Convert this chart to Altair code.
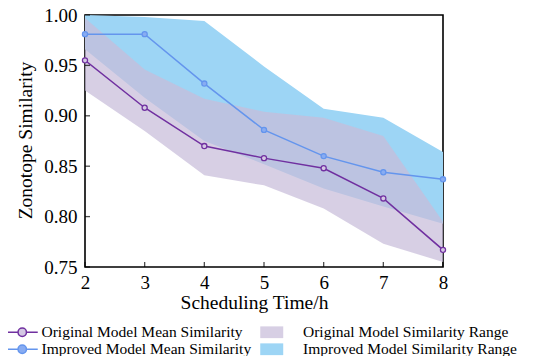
import altair as alt
import pandas as pd

# ---- data ----
hours = [2, 3, 4, 5, 6, 7, 8]
orig_mean = [0.955, 0.908, 0.870, 0.858, 0.848, 0.818, 0.767]
impr_mean = [0.981, 0.981, 0.932, 0.886, 0.860, 0.844, 0.837]
orig_low = [0.925, 0.885, 0.841, 0.831, 0.808, 0.773, 0.755]
orig_high = [0.997, 0.946, 0.917, 0.904, 0.898, 0.880, 0.795]
impr_low = [0.966, 0.918, 0.875, 0.852, 0.828, 0.810, 0.793]
impr_high = [1.000, 0.998, 0.994, 0.949, 0.907, 0.898, 0.864]
y_ticks = [0.75, 0.80, 0.85, 0.90, 0.95, 1.00]

ORIG_MEAN = "Original Model Mean Similarity"
IMPR_MEAN = "Improved Model Mean Similarity"
ORIG_RANGE = "Original Model Similarity Range"
IMPR_RANGE = "Improved Model Similarity Range"

mean_df = pd.DataFrame({
    "hour": hours * 2,
    "value": orig_mean + impr_mean,
    "key": [ORIG_MEAN] * len(hours) + [IMPR_MEAN] * len(hours),
})
band_df = pd.DataFrame({
    "hour": hours * 2,
    "low": impr_low + orig_low,
    "high": impr_high + orig_high,
    "key": [IMPR_RANGE] * len(hours) + [ORIG_RANGE] * len(hours),
})
xtick_df = pd.DataFrame({"hour": hours, "v": [0.75] * len(hours)})
ytick_df = pd.DataFrame({"hour": [2] * len(y_ticks), "v": y_ticks})

FONT = "Liberation Serif"
# legend symbols (unit = half of sqrt(symbolSize))
LC_PATH = "M-1,0H1.26M2.94,0H5.2M2.94,0A0.84,0.84,0,1,1,1.26,0A0.84,0.84,0,1,1,2.94,0Z"
RECT_PATH = "M-1,-0.98H2.83V0.98H-1Z"

x_scale = alt.Scale(domain=[2, 8], nice=False, zero=False)
y_scale = alt.Scale(domain=[0.75, 1.0], nice=False, zero=False)

x_axis = alt.Axis(
    title="Scheduling Time/h", values=hours, format="d", grid=False, domain=False,
    ticks=False, tickSize=0, labelPadding=6, labelFont=FONT, labelFontSize=19,
    labelColor="black", titleFont=FONT, titleFontSize=19.5, titleFontWeight="normal",
    titleColor="black", titleX=169, titleY=41, titleAlign="center",
    titleBaseline="alphabetic", labelFlush=False,
)
y_axis = alt.Axis(
    title="Zonotope Similarity", values=y_ticks, format=".2f", grid=False, domain=False,
    ticks=False, tickSize=0, labelPadding=8, labelFont=FONT, labelFontSize=19,
    labelColor="black", titleFont=FONT, titleFontSize=19.5, titleFontWeight="normal",
    titleColor="black", titleX=-60, titleY=125, titleAngle=-90, titleAlign="center",
    titleBaseline="middle", labelFlush=False,
)

x_enc = alt.X("hour:Q", scale=x_scale, axis=x_axis)

LEG_Y = 309.5
ROW_PAD = 0

band_legend = alt.Legend(
    title=None, orient="none", legendX=173.5, legendY=LEG_Y, direction="vertical",
    symbolType=RECT_PATH, symbolSize=144, symbolStrokeWidth=0, labelFont=FONT,
    labelFontSize=15.5, labelColor="black", labelOffset=29, rowPadding=ROW_PAD, padding=0,
    labelLimit=400,
)
band_fill = alt.Fill(
    "key:N",
    scale=alt.Scale(domain=[ORIG_RANGE, IMPR_RANGE],
                    range=["rgba(200,188,218,0.72)", "#9DD5F5"]),
    legend=band_legend,
)

band_base = alt.Chart(band_df).mark_area(clip=True, strokeWidth=0).encode(
    x=x_enc,
    y=alt.Y("low:Q", scale=y_scale, axis=y_axis),
    y2="high:Q",
    fill=band_fill,
)
bands = alt.layer(
    band_base.transform_filter(alt.datum.key == IMPR_RANGE),
    band_base.transform_filter(alt.datum.key == ORIG_RANGE),
)

mean_domain = [ORIG_MEAN, IMPR_MEAN]
lines = alt.Chart(mean_df).mark_line(strokeWidth=1.5, clip=True).encode(
    x=x_enc,
    y=alt.Y("value:Q", scale=y_scale, axis=y_axis),
    stroke=alt.Stroke("key:N", scale=alt.Scale(domain=mean_domain, range=["#7030A0", "#6495ED"]),
                      legend=None),
)

mean_legend = alt.Legend(
    title=None, orient="none", legendX=-81, legendY=LEG_Y, direction="vertical",
    symbolType=LC_PATH, symbolSize=100, symbolStrokeWidth=1.5, labelFont=FONT,
    labelFontSize=15.5, labelColor="black", labelOffset=22, rowPadding=ROW_PAD, padding=0,
    labelLimit=400,
)
points = alt.Chart(mean_df).mark_point(filled=True, shape="circle", size=26,
                                       strokeWidth=1.3, opacity=1).encode(
    x=x_enc,
    y=alt.Y("value:Q", scale=y_scale, axis=y_axis),
    stroke=alt.Stroke("key:N", scale=alt.Scale(domain=mean_domain, range=["#7030A0", "#6495ED"]),
                      legend=mean_legend),
    fill=alt.Fill("key:N", scale=alt.Scale(domain=mean_domain, range=["#D4C8E4", "#88ACF2"]),
                  legend=mean_legend),
)

xticks = alt.Chart(xtick_df).mark_tick(orient="vertical", size=5, thickness=1.3,
                                       color="black", yOffset=-2.5).encode(
    x=x_enc, y=alt.Y("v:Q", scale=y_scale, axis=y_axis),
)
yticks = alt.Chart(ytick_df).mark_tick(orient="horizontal", size=5, thickness=1.3,
                                       color="black", xOffset=2.5).encode(
    x=x_enc, y=alt.Y("v:Q", scale=y_scale, axis=y_axis),
)

chart = alt.layer(bands, lines, points, xticks, yticks).resolve_scale(
    fill="independent", stroke="independent"
).properties(
    width=358, height=252,
    padding={"left": 77, "top": 7, "right": 99, "bottom": 89},
    autosize=alt.AutoSizeParams(type="none"),
).configure_view(stroke="black", strokeWidth=1.6)

chart.save("out.html", embed_options={"renderer": "svg", "actions": False})
